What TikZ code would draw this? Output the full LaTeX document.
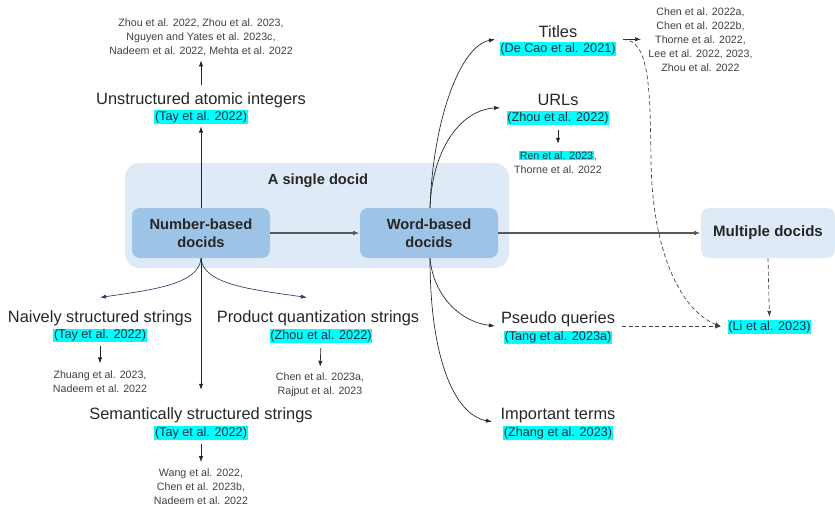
\documentclass[tikz,border=0pt]{standalone}
\usepackage{fontspec}
\setmainfont{Liberation Sans}
\usetikzlibrary{arrows.meta}
\definecolor{bigbox}{HTML}{DEEAF6}
\definecolor{inbox}{HTML}{9DC3E6}
\definecolor{hl}{HTML}{00FFFF}
\definecolor{txt}{HTML}{262626}
\definecolor{reftxt}{HTML}{404040}
\definecolor{citetxt}{HTML}{1F3040}
\definecolor{navy}{HTML}{2E3D66}
\definecolor{darkline}{HTML}{595959}
\begin{document}
\begin{tikzpicture}[x=0.75pt,y=-0.75pt,
  lab/.style={font=\fontsize{12.3}{14}\selectfont, text=txt, inner sep=1pt},
  cite/.style={fill=hl, font=\fontsize{9.5}{11}\selectfont, text=citetxt, inner sep=0.5pt},
  refs/.style={font=\fontsize{8}{10.5}\selectfont, text=reftxt, align=center, inner sep=1pt},
  innerbox/.style={fill=inbox, rounded corners=6pt, minimum width=103.5pt, minimum height=37.5pt,
     align=center, font=\bfseries\fontsize{11}{13.5}\selectfont, text=txt},
  arr/.style={-{Latex[length=4.5pt,width=3.2pt]}, line width=0.5pt, draw=black!85},
  navyarr/.style={-{Latex[length=4.5pt,width=3.2pt]}, line width=0.5pt, draw=navy},
  mainarr/.style={-{Latex[length=5pt,width=3.6pt]}, line width=1pt, draw=darkline},
  dasharr/.style={-{Latex[length=4.5pt,width=3.2pt]}, line width=0.5pt, draw=black!75, dash pattern=on 3pt off 2pt},
]
\useasboundingbox (0,0) rectangle (835,506);

% containers
\node[fill=bigbox, rounded corners=11pt, minimum width=288pt, minimum height=78.75pt] (single) at (317,215.5) {};
\node[font=\bfseries\fontsize{11}{12}\selectfont, text=txt] (singlelab) at (318,181) {A single docid};
\node[fill=bigbox, rounded corners=6pt, minimum width=100.5pt, minimum height=37.5pt,
      font=\bfseries\fontsize{11.3}{12}\selectfont, text=txt] (multi) at (768,233) {Multiple docids};

% upper-left branch
\node[lab] (unstr) at (201,100) {Unstructured atomic integers};
\node[cite] (unstrc) at (201,117) {(Tay et al. 2022)};
\node[refs] (unstrr) at (201,37) {Zhou et al. 2022, Zhou et al. 2023,\\Nguyen and Yates et al. 2023c,\\Nadeem et al. 2022, Mehta et al. 2022};

% lower-left branches
\node[lab] (naive) at (100,318) {Naively structured strings};
\node[cite] (naivec) at (100,335.5) {(Tay et al. 2022)};
\node[refs] (naiver) at (100,382) {Zhuang et al. 2023,\\Nadeem et al. 2022};
\coordinate (naivetip) at (100,297.5);

\node[lab] (prod) at (318,318) {Product quantization strings};
\node[cite] (prodc) at (321,336) {(Zhou et al. 2022)};
\node[refs] (prodr) at (320,385) {Chen et al. 2023a,\\Rajput et al. 2023};
\coordinate (prodtip) at (307,297.5);

\node[lab] (sem) at (201,415) {Semantically structured strings};
\node[cite] (semc) at (201,433) {(Tay et al. 2022)};
\node[refs] (semr) at (201,487) {Wang et al. 2022,\\Chen et al. 2023b,\\Nadeem et al. 2022};

% right branches
\node[lab] (titles) at (558,32) {Titles};
\node[cite] (titlesc) at (558,49) {(De Cao et al. 2021)};
\node[refs] (titlesr) at (700.5,39.5) {Chen et al. 2022a,\\Chen et al. 2022b,\\Thorne et al. 2022,\\Lee et al. 2022, 2023,\\Zhou et al. 2022};
\coordinate (titlesout) at (623,39.3);
\coordinate (titlesreftip) at (641,39.3);
\coordinate (titlestip) at (495,39.3);

\node[lab] (urls) at (558,100) {URLs};
\node[cite] (urlsc) at (558,118) {(Zhou et al. 2022)};
\node[refs] (urlsr) at (558,162) {{\setlength\fboxsep{0.5pt}\colorbox{hl}{\textcolor{citetxt}{Ren et al. 2023}}},\\Thorne et al. 2022};
\coordinate (urlstip) at (500,107.7);

\node[lab] (pseudo) at (558,319.5) {Pseudo queries};
\node[cite] (pseudoc) at (558,337.7) {(Tang et al. 2023a)};
\coordinate (pseudoout) at (622,326.5);
\coordinate (pseudotip) at (495,326);

\node[lab] (imp) at (558,416) {Important terms};
\node[cite] (impc) at (558,433) {(Zhang et al. 2023)};
\coordinate (imptip) at (492,421.7);

\node[cite] (li) at (769.5,327) {(Li et al. 2023)};
\coordinate (liin) at (721,326.5);
\coordinate (dashmid) at (651,160);

% word-box curves (drawn before the inner boxes)
\coordinate (wtop) at (430,208);
\coordinate (wbot) at (430,258);
\draw[arr] (wtop) .. controls (433,120) and (460,46) .. (titlestip);
\draw[arr] (wtop) .. controls (432,150) and (460,110) .. (urlstip);
\draw[arr] (wbot) .. controls (433,295) and (460,322) .. (pseudotip);
\draw[arr] (wbot) .. controls (430,360) and (455,415) .. (imptip);

% inner boxes
\node[innerbox] (num) at (201,233) {Number-based\\docids};
\node[innerbox] (word) at (429,233) {Word-based\\docids};

% main arrows
\draw[mainarr] (num) -- (word);
\draw[mainarr] (word) -- (multi);

% number-based branches
\draw[arr, shorten >=2pt] (num.north) -- (unstrc.south);
\draw[arr, shorten <=4.5pt, shorten >=2.5pt] (unstr.north) -- (unstrr.south);
\draw[navyarr] (num.south) .. controls (199,285) and (150,290) .. (naivetip);
\draw[navyarr] (num.south) .. controls (203,285) and (255,290) .. (prodtip);
\draw[arr, shorten >=12pt] (num.south) -- (sem.north);

\draw[arr, shorten <=3pt, shorten >=4.5pt] (naivec.south) -- (naiver.north);
\draw[arr, shorten <=4pt, shorten >=3.5pt] (prodc.south) -- (prodr.north);
\draw[arr, shorten <=3pt, shorten >=4pt] (semc.south) -- (semr.north);

% right-side arrows
\draw[arr] (titlesout) -- (titlesreftip);
\draw[arr, shorten <=4pt, shorten >=4pt] (urlsc.south) -- (urlsr.north);
\draw[dasharr] (titlesout) .. controls (650,40) and (650,90) .. (dashmid)
   .. controls (652,250) and (680,310) .. (liin);
\draw[dasharr] (pseudoout) -- (liin);
\draw[dasharr, shorten >=2.5pt] (multi.south) -- (li.north);
\end{tikzpicture}
\end{document}
